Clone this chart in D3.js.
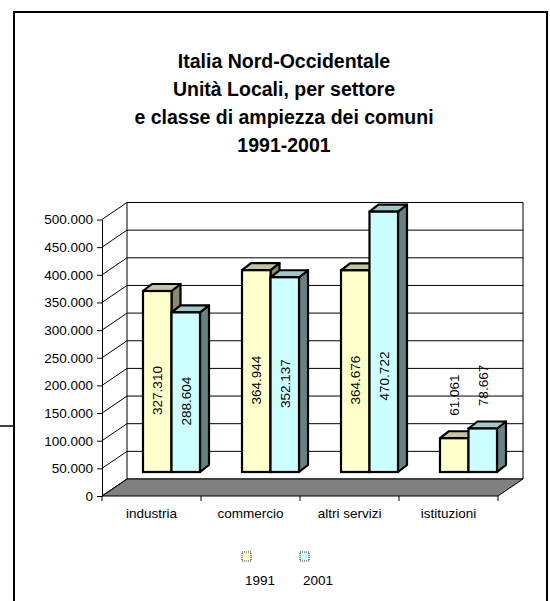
<!DOCTYPE html>
<html>
<head>
<meta charset="utf-8">
<script src="https://cdn.jsdelivr.net/npm/d3@7"></script>
<style>
  body { margin: 0; background: #fff; }
  svg { display: block; font-family: Arial, "Liberation Sans", sans-serif; }
</style>
</head>
<body>
<svg id="chart" width="550" height="601"></svg>
<script>
// data
const categories = ['industria', 'commercio', 'altri servizi', 'istituzioni'];
const years = ['1991', '2001'];
const values1991 = [327310, 364944, 364676, 61061];
const values2001 = [288604, 352137, 470722, 78667];
const yTicks = [0, 50000, 100000, 150000, 200000, 250000, 300000, 350000, 400000, 450000, 500000];
const titleLines = ['Italia Nord-Occidentale', 'Unità Locali, per settore', 'e classe di ampiezza dei comuni', '1991-2001'];

const colors = {
  '1991': { front: '#FFFFCC', top: '#C4C4A2', side: '#8A8A6E' },
  '2001': { front: '#CCFFFF', top: '#9FC9C9', side: '#668282' }
};

const it = d3.formatLocale({ decimal: ',', thousands: '.', grouping: [3], currency: ['', ''] });
const fmt = it.format(',d');

const svg = d3.select('#chart');

// outer frame, as in the source sheet
svg.append('rect')
  .attr('x', 14).attr('y', 12).attr('width', 533).attr('height', 600)
  .attr('fill', 'none').attr('stroke', '#000').attr('stroke-width', 2);
svg.append('line')
  .attr('x1', 0).attr('x2', 14).attr('y1', 426).attr('y2', 426)
  .attr('stroke', '#000').attr('stroke-width', 1.5);

// title
svg.append('text')
  .attr('text-anchor', 'middle')
  .attr('font-weight', 'bold')
  .attr('font-size', 19.5)
  .selectAll('tspan')
  .data(titleLines)
  .enter()
  .append('tspan')
  .attr('x', 284)
  .attr('y', (d, i) => 68 + i * 28)
  .text(d => d);

// scales
const x0 = 102, x1 = 498;          // front floor edge
const wallDx = 25, wallDy = -17;    // depth of walls
const barDx = 20, barDy = -24;      // where the bars stand
const depthX = 9, depthY = -7;      // bar thickness

const yScale = d3.scaleLinear().domain([0, 500000]).range([496, 219.5]);
const xFront = d3.scaleBand().domain(categories).range([x0, x1]);
const xBar = d3.scaleBand().domain(categories).range([x0 + barDx, x1 + barDx]);
const xSub = d3.scaleBand().domain(years).range([0, 57]);

const walls = svg.append('g').attr('class', 'walls');
const y0 = yScale(0), yTop = yScale(500000);

// back wall and side wall
walls.append('path')
  .attr('d', `M${x0 + wallDx},${yTop + wallDy}H${x1 + wallDx}V${y0 + wallDy}H${x0 + wallDx}Z`)
  .attr('fill', '#fff').attr('stroke', '#000').attr('stroke-width', 1);

// floor
walls.append('path')
  .attr('d', `M${x0},${y0}L${x1},${y0}L${x1 + wallDx},${y0 + wallDy}L${x0 + wallDx},${y0 + wallDy}Z`)
  .attr('fill', '#808080').attr('stroke', '#000').attr('stroke-width', 1);

// gridlines on back wall, diagonals on side wall
walls.selectAll('.grid')
  .data(yTicks.slice(1))
  .enter()
  .append('line')
  .attr('class', 'grid')
  .attr('x1', x0 + wallDx).attr('x2', x1 + wallDx)
  .attr('y1', d => yScale(d) + wallDy).attr('y2', d => yScale(d) + wallDy)
  .attr('stroke', '#000').attr('stroke-width', 1);

walls.selectAll('.diag')
  .data(yTicks)
  .enter()
  .append('line')
  .attr('class', 'diag')
  .attr('x1', x0).attr('x2', x0 + wallDx)
  .attr('y1', d => yScale(d)).attr('y2', d => yScale(d) + wallDy)
  .attr('stroke', '#000').attr('stroke-width', 1);

// bars
const barData = [];
categories.forEach((c, i) => {
  barData.push({ cat: c, year: '1991', value: values1991[i] });
  barData.push({ cat: c, year: '2001', value: values2001[i] });
});

const base = y0 + barDy;
const h = v => yScale(0) - yScale(v);

const bars = svg.append('g').attr('class', 'bars')
  .selectAll('.bar')
  .data(barData)
  .enter()
  .append('g')
  .attr('class', 'bar');

bars.each(function (d) {
  const g = d3.select(this);
  const bx = xBar(d.cat) + (xBar.bandwidth() - 57) / 2 + xSub(d.year);
  const bw = xSub.bandwidth();
  const top = base - h(d.value);
  const c = colors[d.year];
  const st = { stroke: '#000', width: 2.2 };

  g.append('path')
    .attr('d', `M${bx + bw},${top}L${bx + bw + depthX},${top + depthY}V${base + depthY}L${bx + bw},${base}Z`)
    .attr('fill', c.side).attr('stroke', st.stroke).attr('stroke-width', st.width).attr('stroke-linejoin', 'round');
  g.append('path')
    .attr('d', `M${bx},${top}L${bx + depthX},${top + depthY}H${bx + bw + depthX}L${bx + bw},${top}Z`)
    .attr('fill', c.top).attr('stroke', st.stroke).attr('stroke-width', st.width).attr('stroke-linejoin', 'round');
  g.append('rect')
    .attr('x', bx).attr('y', top).attr('width', bw).attr('height', base - top)
    .attr('fill', c.front).attr('stroke', st.stroke).attr('stroke-width', st.width);

  // value label, vertical
  const labelLen = 52;
  let cy;
  if (h(d.value) > labelLen + 4) {
    cy = Math.max((top + y0 - 6) / 2, 376);
  } else {
    cy = top + depthY - 10 - labelLen / 2;
  }
  g.append('text')
    .attr('transform', `translate(${bx + bw / 2 + 5},${cy}) rotate(-90)`)
    .attr('text-anchor', 'middle')
    .attr('font-size', 13.5)
    .text(fmt(d.value));
});

// y axis
const yAxis = svg.append('g')
  .attr('transform', `translate(${x0},0)`)
  .call(d3.axisLeft(yScale).tickValues(yTicks).tickFormat(fmt).tickSize(5).tickSizeOuter(0));
yAxis.select('.domain').attr('stroke', '#000');
yAxis.selectAll('text').attr('font-size', 13.5).attr('font-family', 'Arial, "Liberation Sans", sans-serif').attr('fill', '#000').attr('dx', '-1');

// x axis
const xAxis = svg.append('g')
  .attr('transform', `translate(0,${y0})`)
  .call(d3.axisBottom(xFront).tickSize(0).tickPadding(12));
xAxis.select('.domain').remove();
xAxis.selectAll('text').attr('font-size', 13.5).attr('font-family', 'Arial, "Liberation Sans", sans-serif').attr('fill', '#000');

const bounds = categories.map(c => xFront(c)).concat([x1]);
svg.append('g').selectAll('line')
  .data(bounds)
  .enter()
  .append('line')
  .attr('x1', d => d).attr('x2', d => d)
  .attr('y1', y0).attr('y2', y0 + 5)
  .attr('stroke', '#000');

// legend
const legend = svg.append('g')
  .selectAll('.legend-item')
  .data(years)
  .enter()
  .append('g')
  .attr('class', 'legend-item')
  .attr('transform', (d, i) => `translate(${242 + i * 58},552)`);

legend.append('rect')
  .attr('width', 9).attr('height', 9)
  .attr('fill', d => colors[d].front)
  .attr('stroke', '#333').attr('stroke-width', 1.2).attr('stroke-dasharray', '1,1');
legend.append('text')
  .attr('x', 3).attr('y', 33)
  .attr('font-size', 13.5)
  .text(d => d);
</script>
</body>
</html>
